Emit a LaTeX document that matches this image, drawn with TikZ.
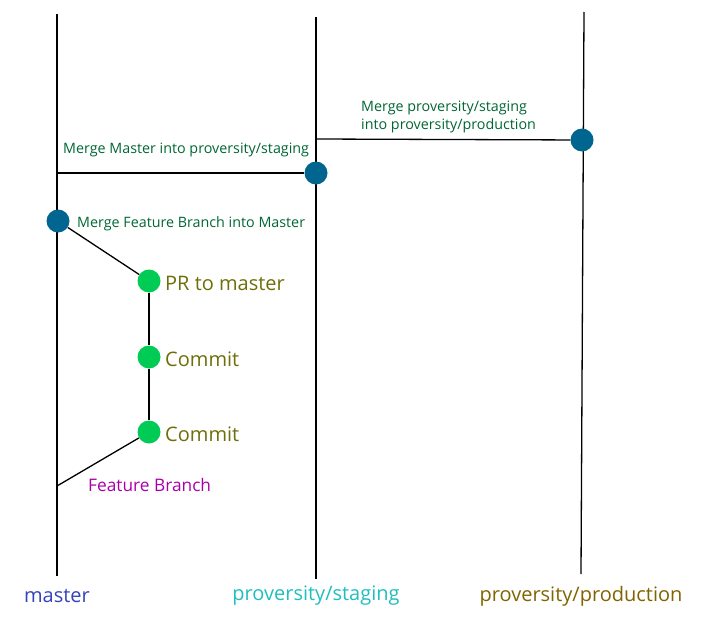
\documentclass[tikz,border=0pt]{standalone}
\usepackage{fontspec}
\setmainfont{Open Sans}
\definecolor{mergetxt}{RGB}{0,102,51}
\definecolor{committxt}{RGB}{110,110,10}
\definecolor{mergedot}{RGB}{0,102,143}
\definecolor{commitdot}{RGB}{0,204,85}
\definecolor{featuretxt}{RGB}{170,0,170}
\definecolor{mastertxt}{RGB}{51,68,187}
\definecolor{stagingtxt}{RGB}{32,190,190}
\definecolor{prodtxt}{RGB}{128,100,0}
\begin{document}
\begin{tikzpicture}[x=1pt,y=-1pt,
  branch/.style={draw=black,line width=1.3pt},
  mdot/.style={circle,fill=mergedot,minimum size=23pt,inner sep=0pt},
  cdot/.style={circle,fill=commitdot,minimum size=23pt,inner sep=0pt},
  mlabel/.style={text=mergetxt,font=\fontsize{14.3}{18}\selectfont,inner sep=0pt,anchor=west,align=left},
  clabel/.style={text=committxt,font=\fontsize{20}{22}\selectfont,inner sep=0pt,anchor=west},
  blabel/.style={font=\fontsize{20}{24}\selectfont,inner sep=0pt}]
\useasboundingbox (0,0) rectangle (701,626);
% branch line ends
\coordinate (mtop) at (57,14);
\coordinate (mbot) at (57,576);
\coordinate (stop) at (316,17);
\coordinate (sbot) at (316,579);
\coordinate (ptop) at (584,12);
\coordinate (pbot) at (581,574);
\coordinate (mjoin1) at (57,173);
\coordinate (sjoin1) at (316,139);
\coordinate (fork) at (57,486);
\draw[branch] (mtop) -- (mbot);
\draw[branch] (stop) -- (sbot);
\draw[branch] (ptop) -- (pbot);
% nodes
\node[mdot] (mp) at (582,140) {};
\node[mdot] (ms) at (316,173) {};
\node[mdot] (mm) at (58,221) {};
\node[cdot] (pr) at (149,281) {};
\node[cdot] (c2) at (149,357) {};
\node[cdot] (c1) at (149,432) {};
% connectors
\draw[branch] (sjoin1) -- (mp);
\draw[branch] (mjoin1) -- (ms);
\draw[branch] (mm) -- (pr);
\draw[branch] (pr) -- (c2) -- (c1);
\draw[branch] (c1) -- (fork);
% labels
\node[mlabel] (lmp) at (361,117) {Merge proversity/staging\\into proversity/production};
\node[mlabel] (lms) at (63,150) {Merge Master into proversity/staging};
\node[mlabel] (lmm) at (77,224) {Merge Feature Branch into Master};
\node[clabel] (lpr) at (165,283) {PR to master};
\node[clabel] (lc2) at (165,359) {Commit};
\node[clabel] (lc1) at (165,434) {Commit};
\node[text=featuretxt,font=\fontsize{17.3}{20}\selectfont,inner sep=0pt,anchor=west] (lfb) at (88,485) {Feature Branch};
\node[blabel,text=mastertxt] (lm) at (57,596) {master};
\node[blabel,text=stagingtxt] (ls) at (316,596) {proversity/staging};
\node[blabel,text=prodtxt] (lp) at (581,596) {proversity/production};
\end{tikzpicture}
\end{document}
